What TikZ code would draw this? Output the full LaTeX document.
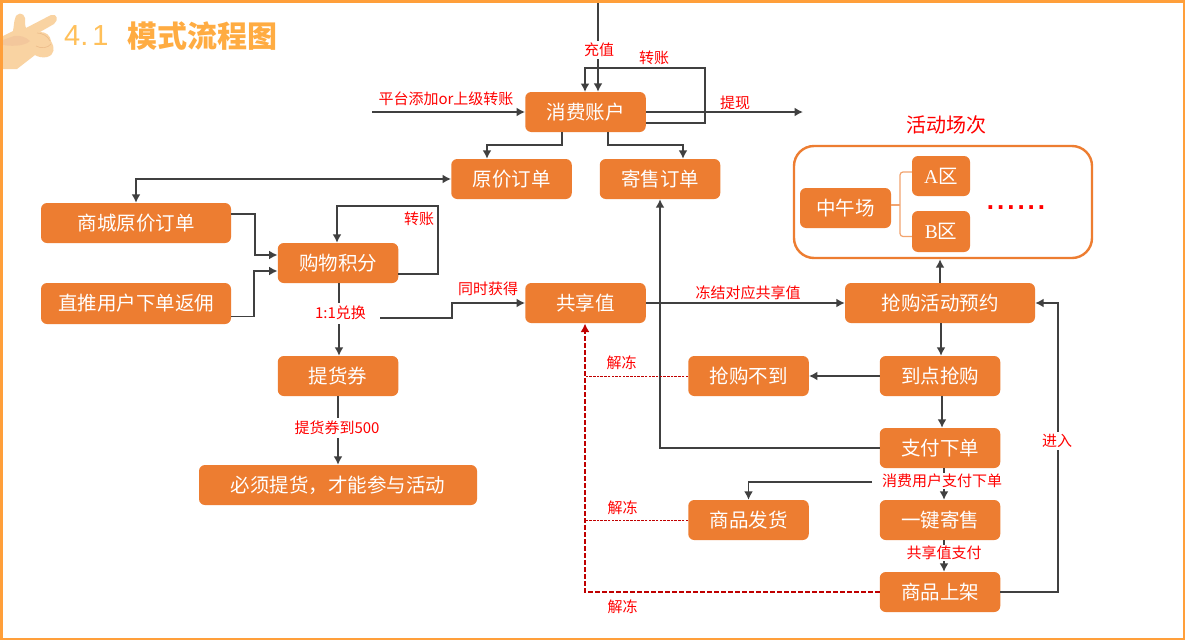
\documentclass[tikz,border=0pt]{standalone}
\usepackage{fontspec}
\setmainfont{Noto Sans CJK SC}
\newfontfamily\liberser{Liberation Serif}
\newfontfamily\libersans{Liberation Sans}
\usetikzlibrary{arrows.meta}
\definecolor{boxor}{HTML}{ED7D31}
\definecolor{framor}{HTML}{FF9F3A}
\definecolor{linegr}{HTML}{404040}
\definecolor{dashred}{HTML}{C00000}
\definecolor{skin}{HTML}{F9D3A2}
\definecolor{skinshade}{HTML}{F3C79C}
\definecolor{skinline}{HTML}{EDBE8C}
\tikzset{
  box/.style={fill=boxor,rounded corners=6pt,text=white,font=\fontsize{19.5}{20}\selectfont,inner sep=0pt,minimum height=40pt,minimum width=120.5pt,anchor=center},
  conn/.style={draw=linegr,line width=1.8pt,-{Latex[length=8.5pt,width=9pt]}},
  lab/.style={text=red,font=\fontsize{15}{15}\selectfont,inner sep=0pt},
  labw/.style={lab,fill=white,inner xsep=0pt,inner ysep=0pt,minimum height=18pt},
  thaw/.style={draw=dashred,line width=0.9pt,dash pattern=on 2.5pt off 1.2pt},
  thawthick/.style={draw=dashred,line width=1.8pt,dash pattern=on 5pt off 2pt,-{Latex[length=8.5pt,width=9pt]}}
}
\begin{document}
\begin{tikzpicture}[x=1pt,y=-1pt]
\useasboundingbox (0,0) rectangle (1185,640);
\fill[white] (0,0) rectangle (1185,640);
% hand
\fill[skin] (3,36) -- (13,31) .. controls (14,26) and (14,21) .. (15,19) .. controls (16,12) and (24,12) .. (25,18) .. controls (25,22) and (25,26) .. (26,28) -- (51,15) .. controls (57,13) and (59,20) .. (54,24) -- (40,32) .. controls (46,32) and (50,35) .. (51,41) .. controls (55,47) and (55,55) .. (47,57) .. controls (43,58) and (38,57) .. (35,55) -- (17,69) -- (3,69) -- cycle;
\fill[skinshade] (3,40) -- (14,36) .. controls (20,35) and (26,37) .. (30,41) .. controls (26,45) and (16,47) .. (3,45) -- cycle;
\draw[skinline,line width=.7pt] (37,33) .. controls (42,33) and (48,36) .. (50,41) (36,46) .. controls (41,49) and (48,48) .. (51,44);
% frame
\draw[framor,line width=3pt] (1.5,1.5) -- (1183.5,1.5);
\draw[framor,line width=3pt] (1.5,0) -- (1.5,640);
\draw[framor,line width=2pt] (1184,0) -- (1184,640);
\draw[framor,line width=2pt] (0,639) -- (1185,639);
% title
\node[anchor=west,inner sep=0pt,text={rgb,255:red,255;green,192;blue,90},font=\libersans\fontsize{29}{30}\selectfont] (titlenum) at (64,36) {4.\kern4pt1};
\node[anchor=west,inner sep=0pt,text={rgb,255:red,255;green,172;blue,66},font=\bfseries\fontsize{30}{30}\selectfont] (titletext) at (127,36) {模式流程图};
% boxes
\node[box] (acct) at (585.5,112) {消费账户};
\node[box] (orig) at (511.5,179) {原价订单};
\node[box] (cons) at (660,179) {寄售订单};
\node[box,minimum width=190pt] (mall) at (136,223) {商城原价订单};
\node[box,minimum width=190pt,minimum height=41pt] (direct) at (136,303.5) {直推用户下单返佣};
\node[box] (points) at (338,263) {购物积分};
\node[box] (voucher) at (338,376) {提货券};
\node[box,minimum width=278pt] (must) at (338,485) {必须提货，才能参与活动};
\node[box] (share) at (585.5,303) {共享值};
\node[box,minimum width=190pt] (reserve) at (940,303) {抢购活动预约};
\node[box] (ontime) at (940,376) {到点抢购};
\node[box] (miss) at (748.5,376) {抢购不到};
\node[box] (pay) at (940,448) {支付下单};
\node[box] (ship) at (748.5,520) {商品发货};
\node[box] (onekey) at (940,520) {一键寄售};
\node[box] (list) at (940,592) {商品上架};
% session panel
\node[draw=boxor,line width=2.4pt,rounded corners=20pt,minimum width=298pt,minimum height=112pt,inner sep=0pt] (panel) at (943,202) {};
\node[box,minimum width=91pt] (noon) at (845.5,208) {中午场};
\node[box,minimum width=58pt] (zonea) at (941,176) {{\liberser A}区};
\node[box,minimum width=58pt,minimum height=41pt] (zoneb) at (941,231.5) {{\liberser B}区};
\draw[draw=boxor!70!white,line width=1.2pt,rounded corners=3pt] ([yshift=4pt]zonea.west) -- (900,172) -- (900,236.5) -- ([yshift=-5pt]zoneb.west);
\draw[draw=boxor!70!white,line width=1.2pt] ([yshift=3pt]noon.east) -- (900,205);
\node[text=red,font=\libersans\bfseries\fontsize{26}{26}\selectfont,inner sep=0pt] (dots) at (1016,208) {.\kern3pt.\kern3pt.\kern3pt.\kern3pt.\kern3pt.};
\node[text=red,font=\fontsize{20}{20}\selectfont,inner sep=0pt] (sessiontitle) at (946,125) {活动场次};
% free ends
\coordinate (topin) at (598,3);
\coordinate (leftin) at (372,112);
\coordinate (withdraw) at (803,112);
\coordinate (swapstart) at (380,318);
\coordinate (shipstart) at (872,482);
% connectors
\draw[conn] (topin) -- (topin |- acct.north);
\draw[conn] ([yshift=-11pt]acct.east) -- (705,123) -- (705,68) -- (585,68) -- (585,92);
\draw[conn] (leftin) -- (acct.west);
\draw[conn] (acct.east) -- (withdraw);
\draw[conn] ([xshift=-23.5pt]acct.south) -- (562,145) -- (487,145) -- ([xshift=-24.5pt]orig.north);
\draw[conn] ([xshift=22.5pt]acct.south) -- (608,145) -- (683,145) -- ([xshift=23pt]cons.north);
\draw[draw=linegr,line width=1.8pt,{Latex[length=8.5pt,width=9pt]}-{Latex[length=8.5pt,width=9pt]}] (mall.north) -- (136,179) -- (orig.west);
\draw[conn] ([yshift=9pt]mall.east) -- (255,214) -- (255,255) -- ([yshift=8pt]points.west);
\draw[conn] ([yshift=-13pt]direct.east) -- (254,316.5) -- (254,271) -- ([yshift=-8pt]points.west);
\draw[conn] ([yshift=-11pt]points.east) -- (438,274) -- (438,206) -- (337,206) -- ([xshift=-1pt]points.north);
\draw[conn] ([xshift=1pt]points.south) -- ([xshift=1pt]voucher.north);
\draw[conn] (swapstart) -- (452,318) -- (452,303) -- (share.west);
\draw[conn] (voucher.south) -- (must.north);
\draw[conn] (share.east) -- (reserve.west);
\draw[conn] (reserve.north) -- (panel.south -| reserve.north);
\draw[conn] ([xshift=1pt]reserve.south) -- ([xshift=1pt]ontime.north);
\draw[conn] (ontime.west) -- (miss.east);
\draw[conn] ([xshift=2pt]ontime.south) -- ([xshift=2pt]pay.north);
\draw[conn] (pay.west) -- (660,448) -- (cons.south);
\draw[conn] ([xshift=4pt]pay.south) -- ([xshift=4pt]onekey.north);
\draw[conn] (shipstart) -- (748.5,482) -- (ship.north);
\draw[conn] ([xshift=4pt]onekey.south) -- ([xshift=4pt]list.north);
\draw[conn] (list.east) -- (1058,592) -- (1058,303) -- (reserve.east);
\draw[thawthick] (list.west) -- (585,592) -- (585,323.5);
\draw[thaw] (miss.west) -- (585,376);
\draw[thaw] (ship.west) -- (585,520);
% labels
\node[labw] (lcharge) at (599,50) {充值};
\node[lab] (ltransfer) at (654,58) {转账};
\node[lab] (lplatform) at (446,99) {平台添加or上级转账};
\node[lab] (lwithdraw) at (735,103) {提现};
\node[lab] (ltransfer2) at (419,219) {转账};
\node[labw,minimum height=21pt] (lswap) at (340.5,313) {1:1兑换};
\node[lab] (lboth) at (488,289) {同时获得};
\node[labw,minimum height=20pt] (lfive) at (337,428) {提货券到500};
\node[lab] (lfreeze) at (748,293) {冻结对应共享值};
\node[lab] (lthaw1) at (621.5,363) {解冻};
\node[lab] (lthaw2) at (622.5,508) {解冻};
\node[lab] (lthaw3) at (622.5,607) {解冻};
\node[labw,inner xsep=2pt,minimum height=16pt] (lpaying) at (942,481) {消费用户支付下单};
\node[labw,minimum height=16pt] (lsharepay) at (944,553) {共享值支付};
\node[labw,inner xsep=2pt,minimum height=18pt] (lenter) at (1057,441) {进入};
\end{tikzpicture}
\end{document}
